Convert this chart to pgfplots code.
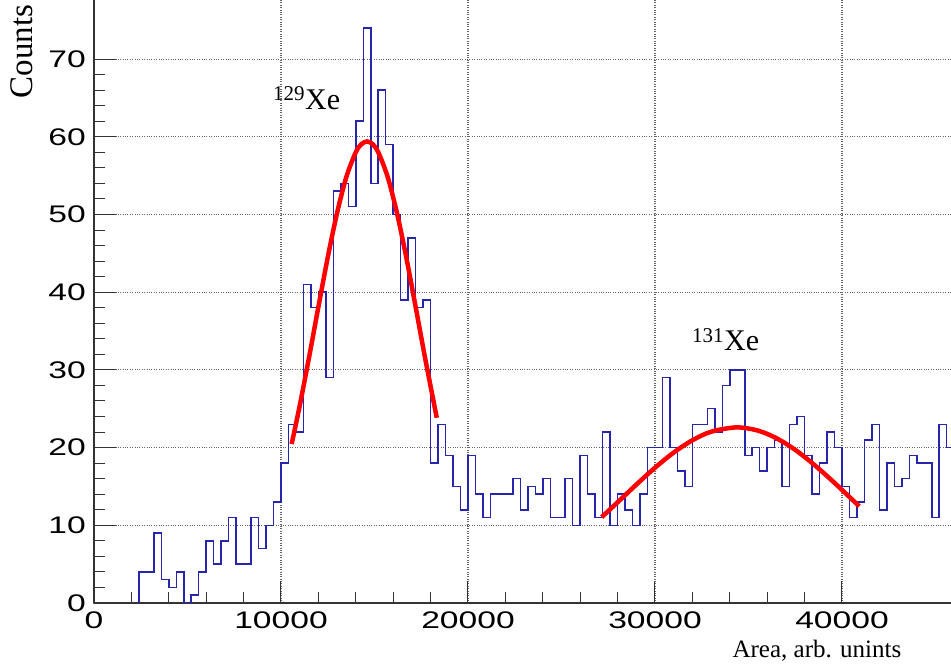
\documentclass[border=0pt]{standalone}
\usepackage{pgfplots}
\pgfplotsset{compat=1.18}
\usepackage{fontspec}
\setmainfont{Liberation Serif}
\newfontfamily\tickfont[FakeStretch=1.4]{Liberation Sans}
\definecolor{histblue}{rgb}{0.15,0.15,0.68}

\pgfplotstableread{
x y
2400 0
2400 4
2800 4
3200 9
3600 3
4000 2
4400 4
4800 0
5200 1
5600 4
6000 8
6400 5
6800 8
7200 11
7600 5
8000 5
8400 11
8800 7
9200 10
9600 13
10000 18
10400 23
10800 22
11200 41
11600 38
12000 40
12400 29
12800 53
13200 54
13600 51
14000 62
14400 74
14800 54
15200 66
15600 59
16000 50
16400 39
16800 47
17200 38
17600 39
18000 18
18400 23
18800 19
19200 15
19600 12
20000 19
20400 14
20800 11
21200 14
21600 14
22000 14
22400 16
22800 12
23200 15
23600 14
24000 16
24400 11
24800 11
25200 16
25600 10
26000 19
26400 14
26800 11
27200 22
27600 10
28000 14
28400 12
28800 10
29200 14
29600 20
30000 20
30400 29
30800 20
31200 17
31600 15
32000 23
32400 23
32800 25
33200 22
33600 28
34000 30
34400 30
34800 19
35200 20
35600 17
36000 20
36400 21
36800 15
37200 23
37600 24
38000 19
38400 14
38800 18
39200 22
39600 20
40000 15
40400 11
40800 13
41200 21
41600 23
42000 12
42400 18
42800 15
43200 16
43600 19
44000 18
44400 18
44800 11
45200 23
45600 20
46000 20
}\histdata

\pgfplotstableread{
x y
10570 20.46
11000 25.37
11500 31.61
12000 38.11
12500 44.47
13000 50.21
13500 54.87
14000 58.01
14300 59.05
14600 59.40
14900 59.05
15200 58.01
15700 54.87
16200 50.21
16700 44.47
17200 38.11
17700 31.61
18330 23.83
}\fitA

\pgfplotstableread{
x y
27150 11.05
28000 12.96
29000 15.23
30000 17.41
31000 19.36
32000 20.94
33000 22.04
34350 22.60
35500 22.19
36500 21.20
37500 19.71
38500 17.82
39500 15.68
40300 13.87
40925 12.45
}\fitB

\begin{document}
\begin{tikzpicture}
\path[use as bounding box] (0,0) rectangle (951bp,667bp);
\begin{axis}[
  at={(94bp,64bp)}, anchor=south west,
  width=857bp, height=603bp, scale only axis,
  xmin=0, xmax=45830, ymin=0, ymax=77.6,
  scaled x ticks=false, scaled y ticks=false,
  axis x line*=bottom, axis y line*=left,
  axis line style={line width=1.1bp, black!80},
  tick align=inside,
  xtick={0,10000,20000,30000,40000},
  xticklabels={0,10000,20000,30000,40000},
  ytick={0,10,20,30,40,50,60,70},
  yticklabels={0,10,20,30,40,50,60,70},
  minor x tick num=4, minor y tick num=4,
  major tick length=22bp, minor tick length=11bp,
  every tick/.style={line width=1bp, black!80},
  xticklabel style={font=\tickfont\fontsize{24bp}{27bp}\selectfont, inner sep=0pt},
  yticklabel style={font=\tickfont\fontsize{24bp}{27bp}\selectfont, inner sep=0pt},
  xticklabel shift=9bp, yticklabel shift=8bp,
  grid=major,
  major grid style={dotted, line width=1.1bp, black!60},
  ylabel={Counts},
  ylabel style={font=\fontsize{33bp}{36bp}\selectfont, at={(rel axis cs:-0.084,0.915)}, anchor=center},
  xlabel={Area, arb. unints},
  xlabel style={font=\fontsize{25bp}{28bp}\selectfont, at={(rel axis cs:0.8436,-0.0896)}, anchor=base},
  clip=true,
]
\addplot[const plot mark left, histblue, line width=1.5bp] table[x=x,y=y] {\histdata};
\addplot[smooth, red, line width=4.5bp] table[x=x,y=y] {\fitA};
\addplot[smooth, red, line width=4.5bp] table[x=x,y=y] {\fitB};
\node[anchor=base west, inner sep=0pt, font=\fontsize{30bp}{33bp}\selectfont] at (axis cs:9572,63.45) {\textsuperscript{129}Xe};
\node[anchor=base west, inner sep=0pt, font=\fontsize{30bp}{33bp}\selectfont] at (axis cs:31979,32.43) {\textsuperscript{131}Xe};
\end{axis}
\end{tikzpicture}
\end{document}
